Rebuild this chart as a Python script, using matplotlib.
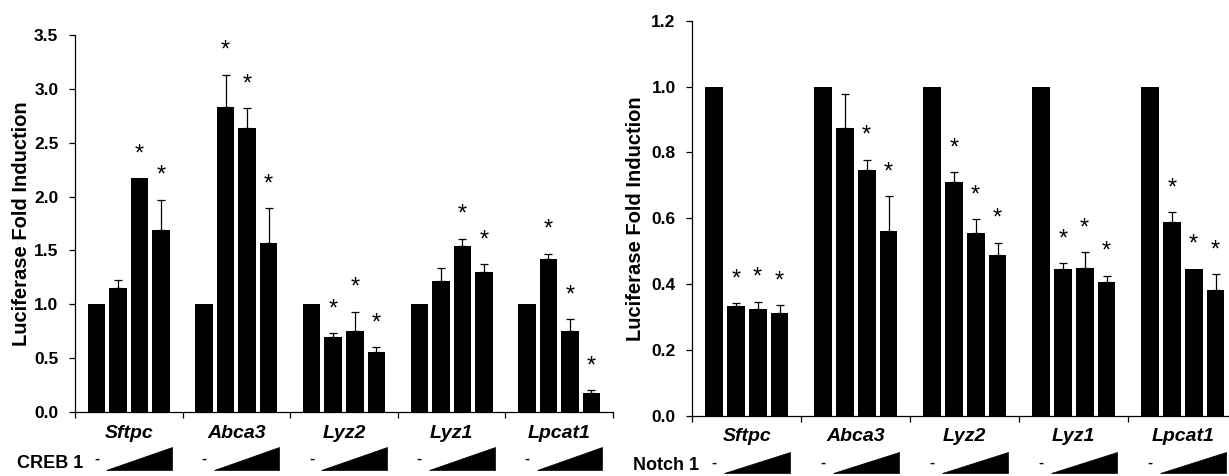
import numpy as np
import matplotlib
matplotlib.use('Agg')
import matplotlib.pyplot as plt
import matplotlib.transforms as mtransforms
from matplotlib.patches import Polygon

plt.rcParams['font.family'] = ['Liberation Sans', 'DejaVu Sans']

genes = ['Sftpc', 'Abca3', 'Lyz2', 'Lyz1', 'Lpcat1']

# CREB 1 panel (4 doses per gene)
creb_vals = [[1.00, 1.15, 2.17, 1.69],
             [1.00, 2.83, 2.64, 1.57],
             [1.00, 0.70, 0.75, 0.56],
             [1.00, 1.22, 1.54, 1.30],
             [1.00, 1.42, 0.75, 0.18]]
creb_err = [[0, 0.08, 0, 0.28],
            [0, 0.30, 0.18, 0.32],
            [0, 0.03, 0.18, 0.04],
            [0, 0.12, 0.07, 0.07],
            [0, 0.05, 0.11, 0.02]]
creb_sig = [[0, 0, 1, 1],
            [0, 1, 1, 1],
            [0, 1, 1, 1],
            [0, 0, 1, 1],
            [0, 1, 1, 1]]

# Notch 1 panel
notch_vals = [[1.00, 0.332, 0.325, 0.313],
              [1.00, 0.874, 0.745, 0.561],
              [1.00, 0.711, 0.556, 0.487],
              [1.00, 0.446, 0.448, 0.407],
              [1.00, 0.589, 0.446, 0.382]]
notch_err = [[0, 0.009, 0.021, 0.023],
             [0, 0.102, 0.032, 0.106],
             [0, 0.028, 0.041, 0.039],
             [0, 0.017, 0.049, 0.018],
             [0, 0.029, 0, 0.047]]
notch_sig = [[0, 1, 1, 1],
             [0, 0, 1, 1],
             [0, 1, 1, 1],
             [0, 1, 1, 1],
             [0, 1, 1, 1]]

W, H = 1229, 476
fig = plt.figure(figsize=(W / 100, H / 100), dpi=100)


def px_box(x0, y_top, x1, y_bot):
    return [x0 / W, 1 - y_bot / H, (x1 - x0) / W, (y_bot - y_top) / H]


def draw_panel(ax, vals, errs, sigs, ymax, ystep, treat, treat_x, treat_y,
               dash_y, tri_top, tri_bot, label_x):
    vals = np.array(vals)
    errs = np.array(errs)
    pitch, width = 0.2, 0.163
    for g in range(len(genes)):
        xs = g + 0.5 + (np.arange(4) - 1.5) * pitch
        ax.bar(xs, vals[g], width=width, color='black', edgecolor='none', zorder=2)
        m = errs[g] > 0
        ax.errorbar(xs[m], vals[g][m], yerr=[np.zeros(m.sum()), errs[g][m]], fmt='none',
                    ecolor='black', elinewidth=0.9, capsize=3, capthick=0.9, zorder=3)
        for i in range(4):
            if sigs[g][i]:
                ax.annotate('*', (xs[i], vals[g][i] + errs[g][i]), xytext=(0, 13),
                            textcoords='offset points', ha='center', va='baseline',
                            fontsize=17)

    ax.set_xlim(0, 5)
    ax.set_ylim(0, ymax)
    ticks = np.arange(0, ymax + 1e-9, ystep)
    ax.set_yticks(ticks)
    ax.set_yticklabels([f'{v:.1f}' for v in ticks])
    ax.set_xticks(range(6))
    ax.set_xticklabels([])
    ax.set_xticks(np.arange(5) + 0.5, minor=True)
    ax.set_xticklabels(genes, minor=True, fontstyle='italic', fontweight='bold', fontsize=14)
    ax.tick_params(axis='x', which='minor', length=0, pad=9)
    ax.tick_params(axis='both', which='major', direction='out', length=4, width=0.9,
                   labelsize=12.5, pad=8)
    for t in ax.get_yticklabels():
        t.set_fontweight('bold')
    for s in ['top', 'right']:
        ax.spines[s].set_visible(False)
    for s in ['left', 'bottom']:
        ax.spines[s].set_linewidth(0.9)

    ax.set_ylabel('Luciferase Fold Induction', fontsize=14.5, fontweight='bold', va='center')
    ax.yaxis.set_label_coords(label_x, 0.5)

    # dose triangles below each group
    tr = mtransforms.blended_transform_factory(ax.transData, fig.transFigure)
    for g in range(len(genes)):
        ax.text(g + 0.2, 1 - dash_y / H, '-', transform=tr, ha='center', va='center',
                fontsize=11, fontweight='bold')
        tri = Polygon([(g + 0.29, 1 - tri_bot / H), (g + 0.9, 1 - tri_bot / H),
                       (g + 0.9, 1 - tri_top / H)], closed=True, facecolor='black',
                      edgecolor='black', lw=0.5, transform=tr, clip_on=False)
        ax.add_patch(tri)
    fig.text(treat_x / W, 1 - treat_y / H, treat, ha='left', va='center',
             fontsize=13, fontweight='bold')


ax1 = fig.add_axes(px_box(75, 35, 613, 412))
draw_panel(ax1, creb_vals, creb_err, creb_sig, 3.5, 0.5, 'CREB 1', 17, 463,
           459, 447, 470, -0.1)

ax2 = fig.add_axes(px_box(692.3, 20.7, 1237.3, 415.7))
draw_panel(ax2, notch_vals, notch_err, notch_sig, 1.2, 0.2, 'Notch 1', 633, 465,
           463, 452, 473, -0.104)

fig.savefig('out.png', dpi=100)
